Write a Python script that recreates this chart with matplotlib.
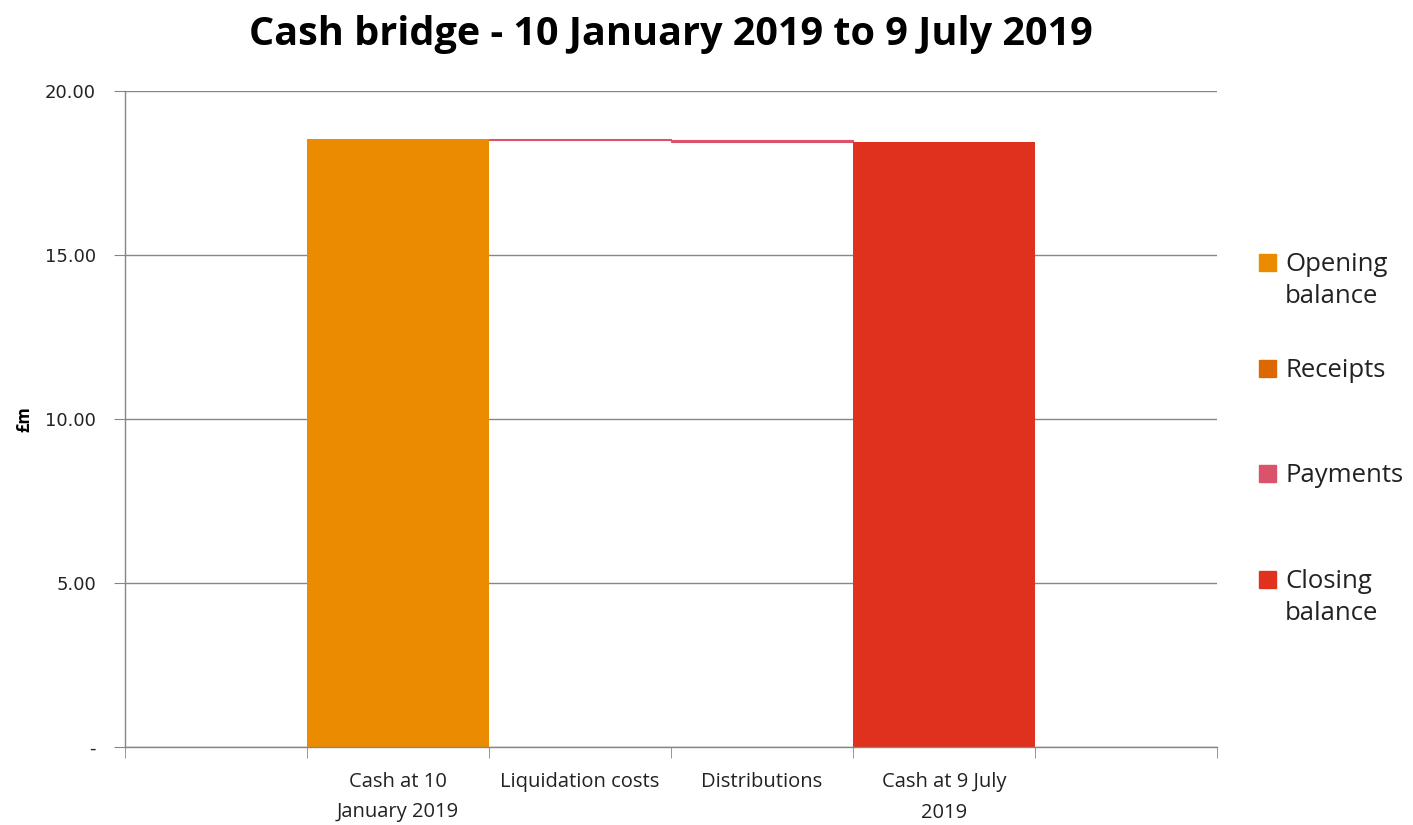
from matplotlib import pyplot as plt
from matplotlib.patches import Rectangle
from matplotlib.ticker import FuncFormatter
import numpy as np

plt.rcParams['font.family'] = ['Open Sans', 'DejaVu Sans']

categories = ['', 'Cash at 10\nJanuary 2019', 'Liquidation costs', 'Distributions', 'Cash at 9 July\n2019', '']
opening = np.array([0., 18.54, 0., 0., 0., 0.])
receipts = np.array([0., 0., 0., 0., 0., 0.])
payments = np.array([0., 0., 0.04, 0.05, 0., 0.])
closing = np.array([0., 0., 0., 0., 18.45, 0.])

series_names = ['Opening\nbalance', 'Receipts', 'Payments', 'Closing\nbalance']
colours = ['#EB8C00', '#DC6900', '#DB536A', '#E0301E']

# invisible base for the floating bars
running = np.cumsum(opening + receipts - payments)
base = np.where(payments + receipts > 0, running + 0., 0.)
base = np.where(receipts > 0, running - receipts, base)

x = np.arange(len(categories))
fig = plt.figure(figsize=(14.13, 8.25), dpi=100)
ax = fig.add_axes([125/1413, 78/825, (1217-125)/1413, (747-91)/825])

ax.bar(x, opening, width=1.0, color=colours[0])
ax.bar(x, receipts, bottom=base, width=1.0, color=colours[1])
ax.bar(x, payments, bottom=base, width=1.0, color=colours[2],
	edgecolor=[colours[2] if p > 0 else 'none' for p in payments], linewidth=0.8)
ax.bar(x, closing, width=1.0, color=colours[3])

ax.set_xlim(-0.5, len(categories) - 0.5)
ax.set_ylim(0, 20)
ax.set_yticks(np.arange(0, 21, 5))
ax.yaxis.set_major_formatter(FuncFormatter(lambda v, p: '-' if v == 0 else '%.2f' % v))
for t in ax.get_yticklabels():
	t.set_family('DejaVu Sans')
ax.set_xticks(x)
ax.set_xticklabels(categories, fontsize=14.5, linespacing=1.7)
ax.set_xticks(np.arange(-0.5, len(categories)), minor=True)
ax.tick_params(axis='x', which='major', length=0, pad=18, labelcolor='#222222')
ax.tick_params(axis='x', which='minor', length=8, color='#868686')
ax.tick_params(axis='y', length=8, color='#868686', labelsize=13, pad=13, labelcolor='#222222')

ax.grid(axis='y', color='#868686', linewidth=1)
ax.set_axisbelow(True)
for s in ['top', 'right']:
	ax.spines[s].set_visible(False)
for s in ['left', 'bottom']:
	ax.spines[s].set_color('#868686')
	ax.spines[s].set_linewidth(1)

ax.set_ylabel('£m', fontsize=12, fontweight='bold', labelpad=8)
ax.set_title('Cash bridge - 10 January 2019 to 9 July 2019', fontsize=28.5, fontweight='bold', pad=33)

# legend, laid out like the spreadsheet one: evenly spaced squares on the right
legend_y = [263, 369, 474, 580]
for name, c, yp in zip(series_names, colours, legend_y):
	fig.add_artist(Rectangle((1259/1413, (825 - yp - 8)/825), 17/1413, 17/825,
		transform=fig.transFigure, color=c))
	fig.text(1285/1413, (825 - yp + 11)/825, name, fontsize=18.5, va='top', ha='left',
		color='#222222', linespacing=1.38)

fig.savefig('out.png', dpi=100)
